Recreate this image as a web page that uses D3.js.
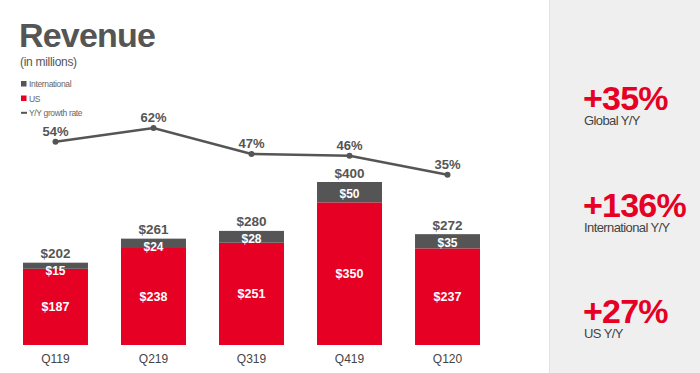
<!DOCTYPE html>
<html>
<head>
<meta charset="utf-8">
<script src="https://cdn.jsdelivr.net/npm/d3@7"></script>
<style>
  body { margin: 0; background: #fff; }
  svg { display: block; font-family: "Liberation Sans", Arial, sans-serif; }
</style>
</head>
<body>
<div id="chart"></div>
<script>
"use strict";

var quarters = ["Q119", "Q219", "Q319", "Q419", "Q120"];
var usRevenue = [187, 238, 251, 350, 237];
var intlRevenue = [15, 24, 28, 50, 35];
var totalRevenue = [202, 261, 280, 400, 272];
var growthRate = [54, 62, 47, 46, 35];

var kpiValues = ["+35%", "+136%", "+27%"];
var kpiLabels = ["Global Y/Y", "International Y/Y", "US Y/Y"];

var legendLabels = ["International", "US", "Y/Y growth rate"];

var width = 700;
var height = 373;
var red = "#e60023";
var dark = "#555555";

var svg = d3.select("#chart").append("svg")
	.attr("width", width)
	.attr("height", height);

// right side panel
svg.append("rect")
	.attr("x", 549).attr("y", 0)
	.attr("width", width - 549).attr("height", height)
	.attr("fill", "#efefef");
svg.append("line")
	.attr("x1", 549.5).attr("x2", 549.5).attr("y1", 0).attr("y2", height)
	.attr("stroke", "#e2e2e2");

// title
svg.append("text")
	.attr("x", 19).attr("y", 46.5)
	.attr("font-size", 34).attr("font-weight", "bold")
	.attr("letter-spacing", -0.8)
	.attr("fill", dark)
	.text("Revenue");
svg.append("text")
	.attr("x", 20).attr("y", 66)
	.attr("font-size", 12).attr("fill", "#555")
	.attr("letter-spacing", -0.3)
	.text("(in millions)");

// legend
var legend = svg.append("g").attr("transform", "translate(21,81)");
legendLabels.forEach(function(d, i) {
	var g = legend.append("g").attr("transform", "translate(0," + (i * 14.5) + ")");
	if (i < 2) {
		g.append("rect").attr("width", 5.5).attr("height", 5.5)
			.attr("fill", i == 0 ? dark : red);
	} else {
		g.append("rect").attr("y", 1.8).attr("width", 6).attr("height", 2).attr("fill", dark);
	}
	g.append("text")
		.attr("x", 8).attr("y", 6)
		.attr("font-size", 8.5).attr("letter-spacing", -0.35)
		.attr("fill", "#666")
		.text(d);
});

// scales
var x = d3.scaleBand()
	.domain(quarters)
	.range([23, 480])
	.paddingInner(0.337)
	.paddingOuter(0);

var y = d3.scaleLinear()
	.domain([0, 400])
	.range([345, 182]);

var yRate = d3.scaleLinear()
	.domain([35, 62])
	.range([174.7, 128]);

var rows = quarters.map(function(q, i) {
	return { q: q, us: usRevenue[i], intl: intlRevenue[i], total: totalRevenue[i], rate: growthRate[i] };
});

var bars = svg.selectAll("g.bar")
	.data(rows)
	.enter()
	.append("g")
	.attr("class", "bar");

bars.append("rect")
	.attr("x", function(d) { return x(d.q); })
	.attr("y", function(d) { return y(d.us); })
	.attr("width", x.bandwidth())
	.attr("height", function(d) { return y(0) - y(d.us); })
	.attr("fill", red);

bars.append("rect")
	.attr("x", function(d) { return x(d.q); })
	.attr("y", function(d) { return y(d.total); })
	.attr("width", x.bandwidth())
	.attr("height", function(d) { return y(d.us) - y(d.total); })
	.attr("fill", dark);

// US values
bars.append("text")
	.attr("x", function(d) { return x(d.q) + x.bandwidth() / 2; })
	.attr("y", function(d) { return (y(d.us) + y(0)) / 2 + 4.5; })
	.attr("text-anchor", "middle")
	.attr("font-size", 12.5).attr("font-weight", "bold")
	.attr("fill", "#fff")
	.text(function(d) { return "$" + d.us; });

// international values
bars.append("text")
	.attr("x", function(d) { return x(d.q) + x.bandwidth() / 2; })
	.attr("y", function(d) {
		var top = y(d.total), h = y(d.us) - top;
		return top + Math.max(h / 2 + 1.5, 8) + 4.3;
	})
	.attr("text-anchor", "middle")
	.attr("font-size", 12).attr("font-weight", "bold")
	.attr("fill", "#fff")
	.text(function(d) { return "$" + d.intl; });

// totals
bars.append("text")
	.attr("x", function(d) { return x(d.q) + x.bandwidth() / 2; })
	.attr("y", function(d) { return y(d.total) - 4.5; })
	.attr("text-anchor", "middle")
	.attr("font-size", 13.5).attr("font-weight", "bold")
	.attr("fill", dark)
	.text(function(d) { return "$" + d.total; });

// x axis labels
var xAxis = svg.append("g")
	.attr("transform", "translate(0,345)")
	.call(d3.axisBottom(x).tickSize(0).tickPadding(9));
xAxis.select(".domain").remove();
xAxis.selectAll("text")
	.attr("font-family", "Liberation Sans, Arial, sans-serif")
	.attr("font-size", 12)
	.attr("fill", "#444");

// growth line
var line = d3.line()
	.x(function(d) { return x(d.q) + x.bandwidth() / 2; })
	.y(function(d) { return yRate(d.rate); });

svg.append("path")
	.datum(rows)
	.attr("fill", "none")
	.attr("stroke", dark)
	.attr("stroke-width", 2.5)
	.attr("d", line);

svg.selectAll("circle.pt")
	.data(rows)
	.enter()
	.append("circle")
	.attr("class", "pt")
	.attr("cx", function(d) { return x(d.q) + x.bandwidth() / 2; })
	.attr("cy", function(d) { return yRate(d.rate); })
	.attr("r", 3)
	.attr("fill", dark);

svg.selectAll("text.rate")
	.data(rows)
	.enter()
	.append("text")
	.attr("class", "rate")
	.attr("x", function(d) { return x(d.q) + x.bandwidth() / 2; })
	.attr("y", function(d) { return yRate(d.rate) - 6; })
	.attr("text-anchor", "middle")
	.attr("font-size", 13).attr("font-weight", "bold")
	.attr("fill", dark)
	.text(function(d) { return d.rate + "%"; });

// KPI panel
var kpiY = [110, 217, 323];
kpiValues.forEach(function(v, i) {
	svg.append("text")
		.attr("x", 583).attr("y", kpiY[i])
		.attr("font-size", 34).attr("font-weight", "bold")
		.attr("letter-spacing", -0.8)
		.attr("fill", red)
		.text(v);
	svg.append("text")
		.attr("x", 584).attr("y", kpiY[i] + 14.5)
		.attr("font-size", 13).attr("letter-spacing", -0.6)
		.attr("fill", "#444")
		.text(kpiLabels[i]);
});
</script>
</body>
</html>
